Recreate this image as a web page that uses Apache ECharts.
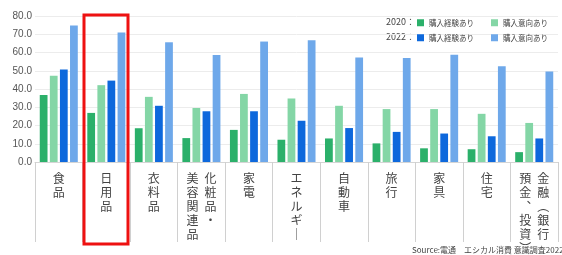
<!DOCTYPE html>
<html>
<head>
<meta charset="utf-8">
<script src="https://cdn.jsdelivr.net/npm/echarts@6/dist/echarts.min.js"></script>
<style>
  html, body { margin: 0; padding: 0; background: #fff; }
  #chart { width: 562px; height: 255px; }
</style>
</head>
<body>
<div id="chart"></div>
<script>
// カテゴリ（縦書き、2列のものは左列+右列で組む）
const categories = [
  "食\n品",
  "日\n用\n品",
  "衣\n料\n品",
  "美\u2002化\n容\u2002粧\n関\u2002品\n連\u2002・\n品\u2002\u3000",
  "家\n電",
  "エ\nネ\nル\nギ\n｜",
  "自\n動\n車",
  "旅\n行",
  "家\n具",
  "住\n宅",
  "預\u2002金\n金\u2002融\n︑\u2002︵\n投\u2002銀\n資\u2002行\n︶\u2002\u3000"
];
const exp2020 = [36.7, 26.9, 18.5, 13.1, 17.6, 12.2, 12.9, 10.2, 7.5, 7.0, 5.4];
const int2020 = [47.2, 42.1, 35.7, 29.6, 37.3, 34.8, 30.8, 29.0, 29.0, 26.4, 21.4];
const exp2022 = [50.7, 44.6, 30.8, 27.8, 27.8, 22.6, 18.6, 16.5, 15.6, 14.1, 12.9];
const int2022 = [74.8, 71.0, 65.6, 58.6, 66.0, 66.7, 57.2, 57.0, 58.8, 52.5, 49.6];
const yTicks = { min: 0, max: 80, interval: 10 };

const colors = ["#2bb06a", "#84d6a6", "#0d68dc", "#6ea8ea"];
const jp = '"Noto Sans CJK JP", "Noto Sans", sans-serif';

const chart = echarts.init(document.getElementById("chart"));

const legendBase = {
  orient: "horizontal",
  padding: 0,
  width: 145,
  itemWidth: 7,
  itemHeight: 7,
  itemGap: 17,
  icon: "rect",
  textStyle: { fontFamily: jp, fontSize: 7.5, color: "#444" },
  formatter: name => name.slice(4),
  selectedMode: false
};

const option = {
  color: colors,
  animation: false,
  grid: { left: 35, right: 4, top: 16, bottom: 90 },
  legend: [
    Object.assign({ data: ["2020購入経験あり", "2020購入意向あり"], left: 417, top: 19 }, legendBase),
    Object.assign({ data: ["2022購入経験あり", "2022購入意向あり"], left: 417, top: 34 }, legendBase)
  ],
  xAxis: {
    type: "category",
    data: categories,
    axisLine: { show: true, lineStyle: { color: "#d5d5d5" } },
    axisTick: { show: true, interval: 0, length: 80, lineStyle: { color: "#d0d0d0" } },
    axisLabel: {
      interval: 0,
      margin: 9,
      fontFamily: jp,
      fontSize: 12,
      lineHeight: 14,
      color: "#444"
    }
  },
  yAxis: {
    type: "value",
    min: yTicks.min,
    max: yTicks.max,
    interval: yTicks.interval,
    axisLine: { show: false },
    axisTick: { show: false },
    splitLine: { lineStyle: { color: "#ececec" } },
    axisLabel: {
      margin: 3,
      fontFamily: '"Liberation Sans", Arial, sans-serif',
      fontSize: 10,
      color: "#555",
      formatter: v => v.toFixed(1)
    }
  },
  series: [
    { name: "2020購入経験あり", type: "bar", data: exp2020 },
    { name: "2020購入意向あり", type: "bar", data: int2020 },
    { name: "2022購入経験あり", type: "bar", data: exp2022 },
    { name: "2022購入意向あり", type: "bar", data: int2022 }
  ].map(s => Object.assign(s, { barCategoryGap: "20%", barGap: "30%" })),
  graphic: [
    { type: "text", left: 386, top: 17, style: { text: "2020：", font: '9px ' + jp, fill: "#444" } },
    { type: "text", left: 386, top: 32, style: { text: "2022：", font: '9px ' + jp, fill: "#444" } },
    { type: "rect", shape: { x: 84, y: 15, width: 44, height: 229 },
      style: { fill: "none", stroke: "#ee1111", lineWidth: 3 }, z: 100 },
    { type: "text", left: 412, top: 246, style: { text: "Source:電通　エシカル消費 意識調査2022", font: '8px ' + jp, fill: "#444" } }
  ]
};

chart.setOption(option);
</script>
</body>
</html>
